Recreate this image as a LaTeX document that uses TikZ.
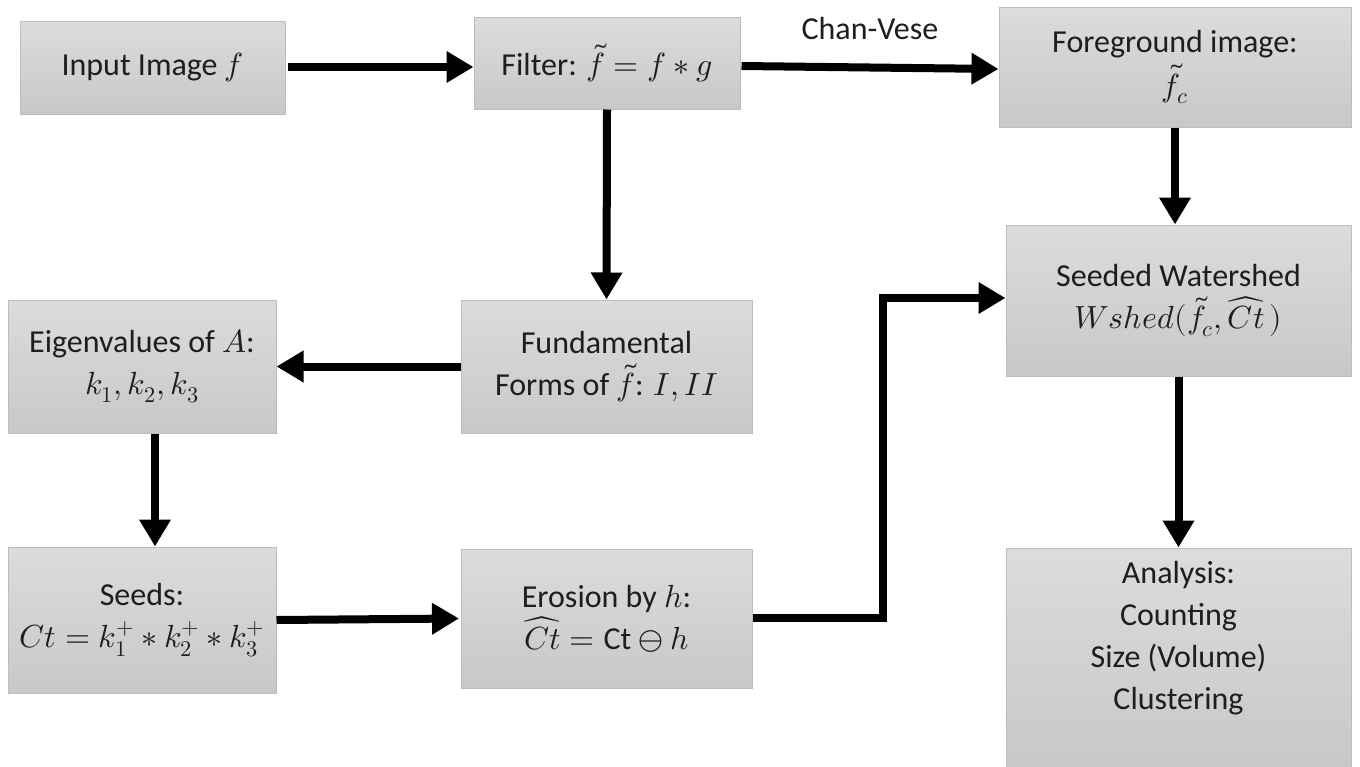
\documentclass[tikz,border=0pt]{standalone}
\usepackage{amsmath}
\usepackage{fontspec}
\usepackage{unicode-math}
\setmainfont{Carlito}
\setmathfont{Latin Modern Math}
\usetikzlibrary{arrows.meta}
\definecolor{boxtop}{HTML}{DCDCDC}
\definecolor{boxbot}{HTML}{C8C8C8}
\definecolor{boxline}{HTML}{BDBDBD}
\definecolor{txt}{HTML}{1E1E1E}
\begin{document}
\begin{tikzpicture}[x=1pt,y=-1pt,
  procbox/.style={draw=boxline, line width=1pt, top color=boxtop, bottom color=boxbot,
    align=center, text=txt, inner sep=0pt,
    font=\fontsize{32}{42}\selectfont},
  bigarrow/.style={-{Triangle[length=27pt,width=30pt]}, line width=8pt, black},
  lbl/.style={text=txt, font=\fontsize{32}{42}\selectfont}
]
\useasboundingbox (0,0) rectangle (1360,766);
\fill[white] (0,0) rectangle (1360,766);

\node[procbox, minimum width=265pt, minimum height=93pt] (inp) at (152.5,67.5) {Input Image $f$};
\node[procbox, minimum width=266pt, minimum height=92pt] (filt) at (607,63) {Filter: $\tilde f = f * g$};
\node[procbox, minimum width=352pt, minimum height=120pt] (fg) at (1175,67) {Foreground image:\\[2pt] $\tilde f_c$};
\node[procbox, minimum width=345pt, minimum height=151pt] (ws) at (1178.5,300.5) {Seeded Watershed\\ $Wshed(\tilde f_c, \widehat{Ct}\,)$};
\node[procbox, minimum width=345pt, minimum height=220pt] (an) at (1178.5,658) {};
\node[lbl, align=center] (antext) at (1178.5,638) {Analysis:\\ Counting\\ Size (Volume)\\ Clustering};
\node[procbox, minimum width=268pt, minimum height=133pt] (eig) at (142,366.5) {Eigenvalues of $A$:\\ $k_1, k_2, k_3$};
\node[procbox, minimum width=291pt, minimum height=133pt] (fund) at (606.5,366.5) {Fundamental\\ Forms of $\tilde f$: $I, II$};
\node[procbox, minimum width=268pt, minimum height=146pt] (seed) at (142,620) {Seeds:\\ $Ct = k_1^+ * k_2^+ * k_3^+$};
\node[procbox, minimum width=291pt, minimum height=139pt] (ero) at (606.5,618.5) {Erosion by $h$:\\ $\widehat{Ct} = \mathrm{Ct} \ominus h$};

\coordinate (bend1) at (883,618);
\coordinate (bend2) at (883,298);
\coordinate (eigx) at (155,0);

\draw[bigarrow] (inp.east |- 0,67) ++(2,0) -- (filt.west |- 0,67);
\draw[bigarrow] ([xshift=1pt,yshift=-3pt]filt.east) -- ([yshift=-2pt]fg.west) node[lbl, midway, above=20pt] (cv) {Chan-Vese};
\draw[bigarrow] (filt.south) -- (fund.north);
\draw[bigarrow] (fund.west) -- (eig.east);
\draw[bigarrow] (eig.south -| eigx) -- (seed.north -| eigx);
\draw[bigarrow] (seed.east) -- (ero.east -| 459,620);
\draw[bigarrow] (ero.east |- bend1) -- (bend1) -- (bend2) -- (ws.west |- bend2);
\draw[bigarrow] (fg.south) -- (ws.north -| fg.south);
\draw[bigarrow] (ws.south) -- (an.north);
\end{tikzpicture}
\end{document}
